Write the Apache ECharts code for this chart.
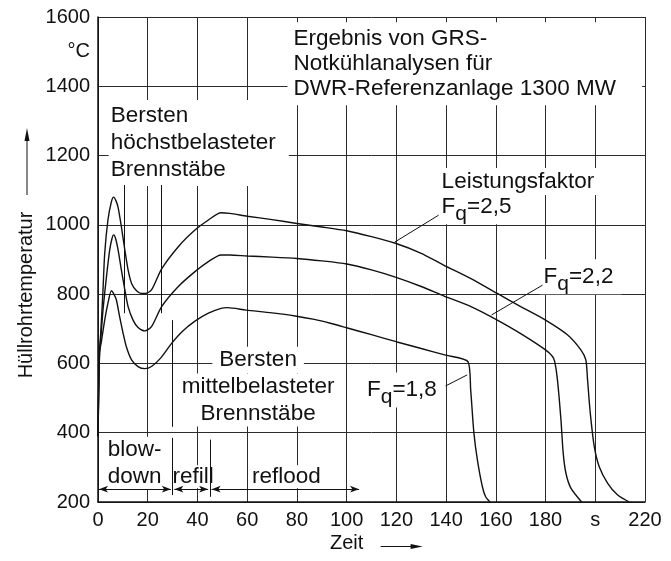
<!DOCTYPE html>
<html>
<head>
<meta charset="utf-8">
<script src="https://cdn.jsdelivr.net/npm/echarts@6/dist/echarts.min.js"></script>
<style>
  html, body { margin: 0; padding: 0; background: #fff; }
  #chart { width: 671px; height: 561px; }
</style>
</head>
<body>
<div id="chart"></div>
<script>
// Axis ranges (time in s, cladding temperature in °C)
const xMin = 0, xMax = 220, xStep = 20;
const yMin = 200, yMax = 1600, yStep = 200;
const xTickText = { 200: 's' };

// Cladding temperature curves [time s, temperature °C]
const fq25 = [[0,390],[0.6,630],[1.2,700],[2,810],[2.7,918],[4,1014],[5.4,1067],[6.3,1080],[7.2,1070],[8.1,1050],
  [9.4,995],[10.8,927],[12.1,870],[13.5,831],[15.5,810],[17.5,802],[19,802],[21.5,812],[25.6,873],[32.3,937],
  [39,985],[44.4,1014],[49.5,1035],[53,1033],[60,1025],[70,1015],[80,1004],[90,994],[100,983],[110,966],
  [119.6,947],[130,918],[139,884],[150,845],[160.6,802],[170,764],[180,725],[188.9,682],[194.2,639],[196.2,610],
  [196.9,552],[198,456],[199.6,360],[201.6,302],[205,254],[209,220],[213.7,200]];
const fq22 = [[0,390],[0.6,630],[1.2,680],[2,754],[3.4,850],[4.7,927],[5.6,960],[6.3,971],[7.1,960],[8.1,927],
  [9.4,870],[10.8,812],[12.1,764],[14.1,725],[16.1,704],[18.8,694],[21.5,706],[25.6,764],[32.3,822],[39,865],
  [44.4,894],[49.5,913],[53,913],[60,910],[70,907],[80,903],[90,896],[100,887],[110,870],[119.6,849],[130,822],
  [139,795],[150,764],[159.3,730],[170,686],[180,639],[182.8,620],[183.7,605],[184.8,552],[186.2,437],[187.1,341],
  [188.2,283],[190.2,240],[194.5,200]];
const fq18 = [[0,390],[0.6,630],[1.4,665],[2.7,725],[4,774],[5.4,810],[6.4,800],[7.4,783],[8.7,735],[10.1,687],
  [11.4,648],[13.5,610],[16.1,591],[18.8,585],[21.5,591],[25.6,619],[29.6,658],[34,693],[39,722],[44.4,745],
  [49.5,759],[52,761],[59.6,754],[70,746],[79.3,737],[87,727],[93.4,716],[100,703],[110,683],[120.3,662],
  [130,643],[139.8,624],[148.8,605],[149.9,523],[151.2,398],[152.6,321],[154.6,244],[155.9,215],[157.7,200]];

// Burst intervals and phase boundaries [x, yTop, yBottom]
const burstMarks = [[10.5,1115,745],[25.6,1115,745],[29.7,725,417]];
const phaseMarks = [[30,385,220],[45,380,215]];
// Phase spans drawn as double arrows at y = phaseArrowY
const phaseArrowY = 237;
const phaseSpans = [[0.4,29.3],[30.7,44.3],[45.7,105]];
// Leader lines from labels to curves [x1,y1,x2,y2]
const leaders = [[137,1028,119.3,950],[178.8,826,158.3,740],[139.8,535,148.5,567]];

const FONT = '"Liberation Sans", Arial, Helvetica, sans-serif';
const INK = '#111';

const chart = echarts.init(document.getElementById('chart'), null, { renderer: 'canvas' });

function curve(name, data) {
  return {
    name, type: 'line', data, showSymbol: false, symbol: 'none',
    smooth: 0.25, z: 3,
    lineStyle: { color: INK, width: 1.4 }
  };
}

const markData = [];
burstMarks.concat(phaseMarks).forEach(([x, a, b]) => {
  markData.push([{ coord: [x, a], symbol: 'none' }, { coord: [x, b], symbol: 'none' }]);
});
phaseSpans.forEach(([a, b]) => {
  markData.push([{ coord: [a, phaseArrowY], symbol: 'arrow', symbolSize: [5, 9] },
                 { coord: [b, phaseArrowY], symbol: 'arrow', symbolSize: [5, 9] }]);
});
leaders.forEach(([x1, y1, x2, y2]) => {
  markData.push([{ coord: [x1, y1], symbol: 'none' }, { coord: [x2, y2], symbol: 'none' }]);
});

const axisCommon = {
  type: 'value',
  axisLine: { show: true, onZero: false, lineStyle: { color: INK, width: 1.5 } },
  axisTick: { show: false },
  splitLine: { show: true, lineStyle: { color: '#2b2b2b', width: 1 } },
  axisLabel: { margin: 8, fontSize: 20, fontFamily: FONT, color: INK }
};

chart.setOption({
  animation: false,
  backgroundColor: '#fff',
  grid: { left: 98, right: 26, top: 17, bottom: 59 },
  xAxis: Object.assign({}, axisCommon, {
    min: xMin, max: xMax, interval: xStep,
    axisLabel: Object.assign({}, axisCommon.axisLabel, { formatter: v => xTickText[v] || String(v) })
  }),
  yAxis: Object.assign({}, axisCommon, {
    min: yMin, max: yMax, interval: yStep,
    axisLabel: Object.assign({}, axisCommon.axisLabel, { formatter: v => String(v) })
  }),
  series: [
    Object.assign(curve('Fq=1,8', fq18), {
      markLine: {
        silent: true, animation: false, symbol: 'none', precision: 2,
        label: { show: false },
        lineStyle: { color: INK, width: 1, type: 'solid' },
        emphasis: { disabled: true },
        data: markData
      }
    }),
    curve('Fq=2,2', fq22),
    curve('Fq=2,5', fq25)
  ]
});

const P = (x, y) => chart.convertToPixel({ gridIndex: 0 }, [x, y]);

function pad4(p) {
  if (p.length === 1) return [p[0], p[0], p[0], p[0]];
  if (p.length === 2) return [p[0], p[1], p[0], p[1]];
  return p;
}

// Text placed at a data position; the anchor refers to the glyphs, not the padded box
function label(x, y, text, o) {
  o = o || {};
  const p = P(x, y);
  const pad = pad4(o.padding || [0, 2]);
  const align = o.align || 'left';
  let dx = o.dx || 0;
  if (align === 'left') dx -= pad[3];
  else if (align === 'right') dx += pad[1];
  else dx += (pad[1] - pad[3]) / 2;
  const dy = (o.dy || 0) + (pad[2] - pad[0]) / 2;
  return {
    type: 'text', x: p[0] + dx, y: p[1] + dy, z: o.z || 1,
    style: {
      text,
      fontSize: o.size || 22.5, fontFamily: FONT, fill: INK,
      align, textAlign: align,
      verticalAlign: 'middle', textVerticalAlign: 'middle',
      lineHeight: o.lineHeight || undefined,
      backgroundColor: o.bg === false ? undefined : '#fff',
      padding: pad,
      rich: o.rich
    }
  };
}

const subRich = { q: { fontSize: 21, fontFamily: FONT, padding: [14, 0, 0, 0] } };

const g = [];
// Title block
g.push(label(78.6, 1468, 'Ergebnis von GRS-\nNotkühlanalysen für\nDWR-Referenzanlage 1300 MW',
  { lineHeight: 25, padding: [3, 26, 5, 6] }));
// Burst of highest-loaded rods
g.push(label(5.1, 1229, 'Bersten\nhöchstbelasteter\nBrennstäbe',
  { lineHeight: 27, padding: [5, 13, 0, 2] }));
// Burst of medium-loaded rods (one box per line)
[['Bersten', 610], ['mittelbelasteter', 533], ['Brennstäbe', 456]].forEach(([t, y]) => {
  g.push(label(64.4, y, t, { align: 'center', lineHeight: 26.5, padding: [0, 7] }));
});
// Power factor labels
g.push(label(138.2, 1125, 'Leistungsfaktor', { padding: [2, 3] }));
g.push(label(138.2, 1052, 'F{q|q}=2,5', { rich: subRich, padding: [0, 4] }));
g.push(label(179.2, 850, 'F{q|q}=2,2', { rich: subRich, padding: [0, 8, 0, 4] }));
g.push(label(108.2, 523, 'F{q|q}=1,8', { rich: subRich, padding: [0, 3] }));
// Phase labels
g.push(label(3.9, 311.5, 'blow-\ndown', { lineHeight: 26.7, padding: [0, 2] }));
g.push(label(30, 273, 'refill', { padding: [0, 1] }));
g.push(label(61.9, 273, 'reflood', { padding: [0, 2] }));
// Unit on the temperature axis
g.push(label(0, 1500, '°C', { align: 'right', dx: -8, size: 20, bg: false, padding: [0, 0] }));

// Axis titles with arrows
const bottomLeft = P(xMin, yMin);
const zx = P(100, yMin);
g.push({ type: 'text', x: zx[0], y: bottomLeft[1] + 41, style: {
  text: 'Zeit', fontSize: 20, fontFamily: FONT, fill: INK, align: 'center', verticalAlign: 'middle' } });
const ay = bottomLeft[1] + 44.5;
g.push({ type: 'line', shape: { x1: zx[0] + 34, y1: ay, x2: zx[0] + 68, y2: ay }, style: { stroke: INK, lineWidth: 1 } });
g.push({ type: 'polygon', shape: { points: [[zx[0] + 76, ay], [zx[0] + 64, ay - 2.5], [zx[0] + 64, ay + 2.5]] }, style: { fill: INK } });

const yTitleX = bottomLeft[0] - 72;
g.push({ type: 'text', x: yTitleX, y: 295, rotation: Math.PI / 2, style: {
  text: 'Hüllrohrtemperatur', fontSize: 20, fontFamily: FONT, fill: INK, align: 'center', verticalAlign: 'middle' } });
g.push({ type: 'line', shape: { x1: yTitleX + 1, y1: 195, x2: yTitleX + 1, y2: 140 }, style: { stroke: INK, lineWidth: 1 } });
g.push({ type: 'polygon', shape: { points: [[yTitleX + 1, 128], [yTitleX - 1.5, 141], [yTitleX + 3.5, 141]] }, style: { fill: INK } });

chart.setOption({ graphic: { elements: g } });
</script>
</body>
</html>
